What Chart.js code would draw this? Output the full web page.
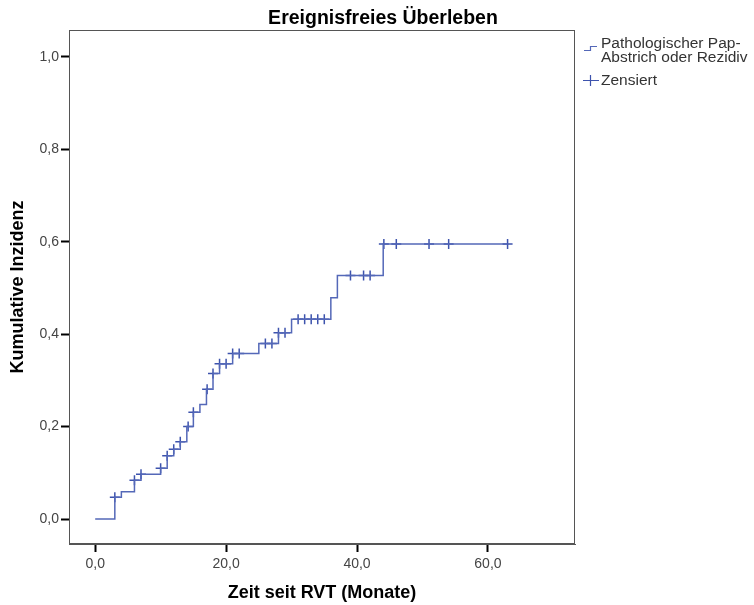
<!DOCTYPE html>
<html>
<head>
<meta charset="utf-8">
<script src="https://cdn.jsdelivr.net/npm/chart.js@4.4.1/dist/chart.umd.min.js"></script>
<style>
html, body { margin: 0; padding: 0; background: #fff; }
#wrap { width: 754px; height: 605px; }
</style>
</head>
<body>
<div id="wrap"><canvas id="kmChart" width="754" height="605"></canvas></div>
<script>
// Zeitpunkte (Monate), an denen die Kurve springt, und die kumulative Inzidenz danach
const eventTimes  = [0, 3, 4, 6, 7, 10, 11, 12, 13, 14, 15, 16, 17, 18, 19, 21, 25, 28, 30, 36, 37, 44];
const eventValues = [0, 0.047, 0.059, 0.084, 0.097, 0.110, 0.137, 0.151, 0.167, 0.200, 0.231, 0.248,
                     0.281, 0.315, 0.336, 0.358, 0.380, 0.403, 0.432, 0.479, 0.527, 0.595];
// zensierte Fälle (Monate)
const censorTimes = [3, 6, 7, 10, 11, 12, 13, 14.2, 15, 17.1, 18, 19, 20, 21, 22, 26, 27, 28, 29,
                     31, 32, 33, 34, 35, 39, 41, 42, 44.1, 46, 51, 54, 63];
const lastFollowUp = 63;
const xTicks = [0, 20, 40, 60];
const yTicks = [0, 0.2, 0.4, 0.6, 0.8, 1.0];

const FONT = 'Arial, "Liberation Sans", sans-serif';
const LINE_COLOR = '#5468b8';
const MARK_COLOR = '#3d53ad';

// Stufenwert der Kurve zu einem Zeitpunkt
function levelAt(t) {
    let v = eventValues[0];
    for (let i = 0; i < eventTimes.length; i++) {
        if (eventTimes[i] <= t) v = eventValues[i];
    }
    return v;
}

const curvePoints = eventTimes.map((t, i) => ({ x: t, y: eventValues[i] }));
curvePoints.push({ x: lastFollowUp, y: levelAt(lastFollowUp) });
const censorPoints = censorTimes.map(t => ({ x: t, y: levelAt(t) }));

const fmt = v => v.toFixed(1).replace('.', ',');

// Rahmen, Titel und Legende
const decorations = {
    id: 'decorations',
    afterDraw(chart) {
        const ctx = chart.ctx;
        const a = chart.chartArea;
        ctx.save();
        ctx.strokeStyle = '#555';
        ctx.lineWidth = 1;
        ctx.strokeRect(Math.round(a.left) + 0.5, Math.round(a.top) + 0.5,
                       Math.round(a.right - a.left) - 1, Math.round(a.bottom - a.top) - 1);

        ctx.fillStyle = '#000';
        ctx.font = 'bold 19.5px ' + FONT;
        ctx.textAlign = 'center';
        ctx.textBaseline = 'alphabetic';
        ctx.fillText('Ereignisfreies Überleben', 383, 24);

        // Legende
        const lx = a.right;
        ctx.strokeStyle = LINE_COLOR;
        ctx.lineWidth = 1.2;
        ctx.beginPath();
        ctx.moveTo(lx + 9, 50.5);
        ctx.lineTo(lx + 15.5, 50.5);
        ctx.lineTo(lx + 15.5, 46.5);
        ctx.lineTo(lx + 22, 46.5);
        ctx.stroke();

        ctx.strokeStyle = MARK_COLOR;
        ctx.beginPath();
        ctx.moveTo(lx + 8, 80.5);
        ctx.lineTo(lx + 24, 80.5);
        ctx.moveTo(lx + 15.5, 75);
        ctx.lineTo(lx + 15.5, 86);
        ctx.stroke();

        ctx.fillStyle = '#333';
        ctx.font = '15.5px ' + FONT;
        ctx.textAlign = 'left';
        ctx.textBaseline = 'middle';
        ctx.fillText('Pathologischer Pap-', lx + 26, 44);
        ctx.fillText('Abstrich oder Rezidiv', lx + 26, 58);
        ctx.fillText('Zensiert', lx + 26, 81);
        ctx.restore();
    }
};

const kmChart = new Chart(document.getElementById('kmChart').getContext('2d'), {
    type: 'scatter',
    data: {
        datasets: [{
            label: 'Pathologischer Pap-Abstrich oder Rezidiv',
            data: curvePoints,
            showLine: true,
            stepped: true,
            borderColor: LINE_COLOR,
            borderWidth: 1.5,
            pointRadius: 0,
            fill: false
        }, {
            label: 'Zensiert',
            data: censorPoints,
            showLine: false,
            pointStyle: 'cross',
            pointRadius: 5,
            borderColor: MARK_COLOR,
            borderWidth: 1.5,
            pointBorderWidth: 1.5
        }]
    },
    options: {
        responsive: false,
        animation: false,
        layout: {
            padding: { left: 0, top: 30, right: 179, bottom: 0 }
        },
        plugins: {
            legend: { display: false },
            tooltip: { enabled: false }
        },
        scales: {
            x: {
                type: 'linear',
                min: -4,
                max: 73.3,
                afterBuildTicks: s => { s.ticks = xTicks.map(v => ({ value: v })); },
                afterFit: s => { s.height = 61; },
                ticks: {
                    callback: v => fmt(v),
                    color: '#444',
                    font: { family: FONT, size: 14 },
                    padding: 4,
                    maxRotation: 0
                },
                grid: {
                    drawOnChartArea: false,
                    drawTicks: true,
                    tickLength: 8,
                    tickWidth: 2,
                    tickColor: '#000'
                },
                border: { display: true, color: '#555', width: 1 },
                title: {
                    display: true,
                    text: 'Zeit seit RVT (Monate)',
                    color: '#000',
                    font: { family: FONT, size: 18, weight: 'bold' },
                    padding: { top: 0, bottom: 1 }
                }
            },
            y: {
                type: 'linear',
                min: -0.054,
                max: 1.058,
                afterBuildTicks: s => { s.ticks = yTicks.map(v => ({ value: v })); },
                afterFit: s => { s.width = 69; },
                ticks: {
                    callback: v => fmt(v),
                    color: '#444',
                    font: { family: FONT, size: 14 },
                    padding: 2
                },
                grid: {
                    drawOnChartArea: false,
                    drawTicks: true,
                    tickLength: 8,
                    tickWidth: 2,
                    tickColor: '#000'
                },
                border: { display: true, color: '#555', width: 1 },
                title: {
                    display: true,
                    text: 'Kumulative Inzidenz',
                    color: '#000',
                    font: { family: FONT, size: 18, weight: 'bold' },
                    padding: { top: 7, bottom: 0 }
                }
            }
        }
    },
    plugins: [decorations]
});
</script>
</body>
</html>
